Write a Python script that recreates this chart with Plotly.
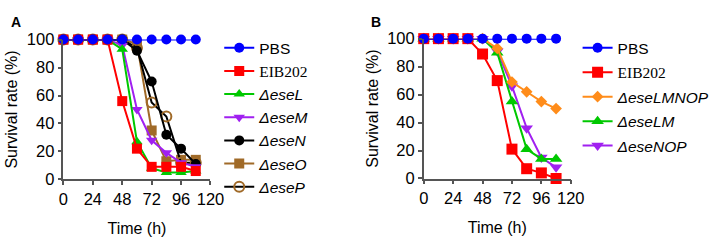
import plotly.graph_objects as go

time_h = [0, 12, 24, 36, 48, 60, 72, 84, 96, 108]

# Panel A
a_pbs = [100, 100, 100, 100, 100, 100, 100, 100, 100, 100]
a_eib202 = [100, 100, 100, 100, 56, 22, 9, 9, 9, 6]
a_eseL = [100, 100, 100, 100, 93, 27, 8, 5, 5, 6]
a_eseM = [100, 100, 100, 100, 96, 50, 28, 19, 12, 9]
a_eseN = [100, 100, 100, 100, 100, 92, 70, 32, 22, 11]
a_eseO = [100, 100, 100, 100, 100, 97, 35, 13, 14, 14]
a_eseP = [100, 100, 100, 100, 100, 94, 55, 45, 12, 12]

# Panel B
b_pbs = [100, 100, 100, 100, 100, 100, 100, 100, 100, 100]
b_eib202 = [100, 100, 100, 100, 89, 70, 21, 7, 4, 0]
b_eseLMNOP = [100, 100, 100, 100, 100, 93, 69, 62, 55, 50]
b_eseLM = [100, 100, 100, 100, 100, 90, 55, 21, 14, 14]
b_eseNOP = [100, 100, 100, 100, 100, 91, 66, 36, 15, 8]

x_ticks = [0, 24, 48, 72, 96, 120]
y_ticks = [0, 20, 40, 60, 80, 100]

BLUE = "#0000FF"
RED = "#FF0000"
GREEN = "#00C800"
PURPLE = "#A020F0"
BLACK = "#000000"
BROWN = "#A06A28"
ORANGE = "#FF8C1A"

SERIF = '<span style="font-family:Liberation Serif">EIB202</span>'

fig = go.Figure()


def add(x, y, name, color, symbol, size, xa, ya, legend, rank, mcolor=None, mline=None):
    fig.add_trace(go.Scatter(
        x=x, y=y, name=name, mode="lines+markers",
        line=dict(color=color, width=2),
        marker=dict(symbol=symbol, size=size, color=mcolor or color,
                    line=mline or dict(width=0)),
        xaxis=xa, yaxis=ya, legend=legend, cliponaxis=False,
        legendgroup=f"{legend}_{rank}", legendrank=rank,
    ))

# Panel A (PBS drawn last so it's on top)
add(time_h, a_eseO, "<i>ΔeseO</i>", BROWN, "square", 10, "x", "y", "legend", 6)
add(time_h, a_eseP, "<i>ΔeseP</i>", BLACK, "circle-open", 10, "x", "y", "legend", 7,
    mcolor=BROWN, mline=dict(color=BROWN, width=2))
add(time_h, a_eseN, "<i>ΔeseN</i>", BLACK, "circle", 10, "x", "y", "legend", 5)
add(time_h, a_eseM, "<i>ΔeseM</i>", PURPLE, "triangle-down", 10, "x", "y", "legend", 4)
add(time_h, a_eseL, "<i>ΔeseL</i>", GREEN, "triangle-up", 10, "x", "y", "legend", 3)
add(time_h, a_eib202, SERIF, RED, "square", 10, "x", "y", "legend", 2)
add(time_h, a_pbs, "PBS", BLUE, "circle", 10, "x", "y", "legend", 1)

# Panel B
add(time_h, b_eseNOP, "<i>ΔeseNOP</i>", PURPLE, "triangle-down", 11, "x2", "y2", "legend2", 5)
add(time_h, b_eseLM, "<i>ΔeseLM</i>", GREEN, "triangle-up", 11, "x2", "y2", "legend2", 4)
add(time_h, b_eseLMNOP, "<i>ΔeseLMNOP</i>", ORANGE, "diamond", 9, "x2", "y2", "legend2", 3)
add(time_h, b_eib202, SERIF, RED, "square", 11, "x2", "y2", "legend2", 2)
add(time_h, b_pbs, "PBS", BLUE, "circle", 10, "x2", "y2", "legend2", 1)

W, H = 725, 244
def px(v):
    return v / W
def py(v):
    return 1 - v / H

TICK_FS = 16.5
TITLE_FS = 16
LEG_FS = 15.5
axis_common = dict(
    showgrid=False, zeroline=False, showline=True, linecolor="#555555", linewidth=1.5,
    ticks="outside", ticklen=4, tickwidth=1.5, tickcolor="#555555",
    tickfont=dict(family="Liberation Sans, Arial", size=TICK_FS, color="black"),
    fixedrange=True,
)

fig.update_layout(
    width=W, height=H,
    margin=dict(l=0, r=0, t=0, b=0),
    paper_bgcolor="white", plot_bgcolor="white",
    font=dict(family="Liberation Sans, Arial", color="black"),
    xaxis=dict(domain=[px(60), px(211)], range=[0, 120], tickvals=x_ticks, anchor="y",
               title=dict(text="Time (h)", font=dict(size=TITLE_FS), standoff=16), **axis_common),
    yaxis=dict(domain=[py(184), py(33)], range=[0, 100], tickvals=y_ticks, anchor="x",
               title=dict(text="Survival rate (%)", font=dict(size=TITLE_FS), standoff=5), **axis_common),
    xaxis2=dict(domain=[px(430), px(581)], range=[0, 120], tickvals=x_ticks, anchor="y2",
                title=dict(text="Time (h)", font=dict(size=TITLE_FS), standoff=16), **axis_common),
    yaxis2=dict(domain=[py(183), py(32)], range=[0, 100], tickvals=y_ticks, anchor="x2",
                title=dict(text="Survival rate (%)", font=dict(size=TITLE_FS), standoff=5), **axis_common),
    legend=dict(x=px(220), y=py(24), xanchor="left", yanchor="top", traceorder="grouped",
                font=dict(size=LEG_FS, family="Liberation Sans, Arial"), bgcolor="rgba(0,0,0,0)",
                itemwidth=30, tracegroupgap=0),
    legend2=dict(x=px(588), y=py(24), xanchor="left", yanchor="top", traceorder="grouped",
                 font=dict(size=LEG_FS, family="Liberation Sans, Arial"), bgcolor="rgba(0,0,0,0)",
                 itemwidth=30, tracegroupgap=1.3),
    annotations=[
        dict(text="<b>A</b>", x=px(4), y=py(3), xref="paper", yref="paper",
             xanchor="left", yanchor="top", showarrow=False, font=dict(size=14)),
        dict(text="<b>B</b>", x=px(374), y=py(3), xref="paper", yref="paper",
             xanchor="left", yanchor="top", showarrow=False, font=dict(size=14)),
    ],
)

fig.write_html(
    "out.html",
    config={"displayModeBar": False},
    post_script="document.body.style.margin='0';document.body.style.overflow='hidden';",
)
